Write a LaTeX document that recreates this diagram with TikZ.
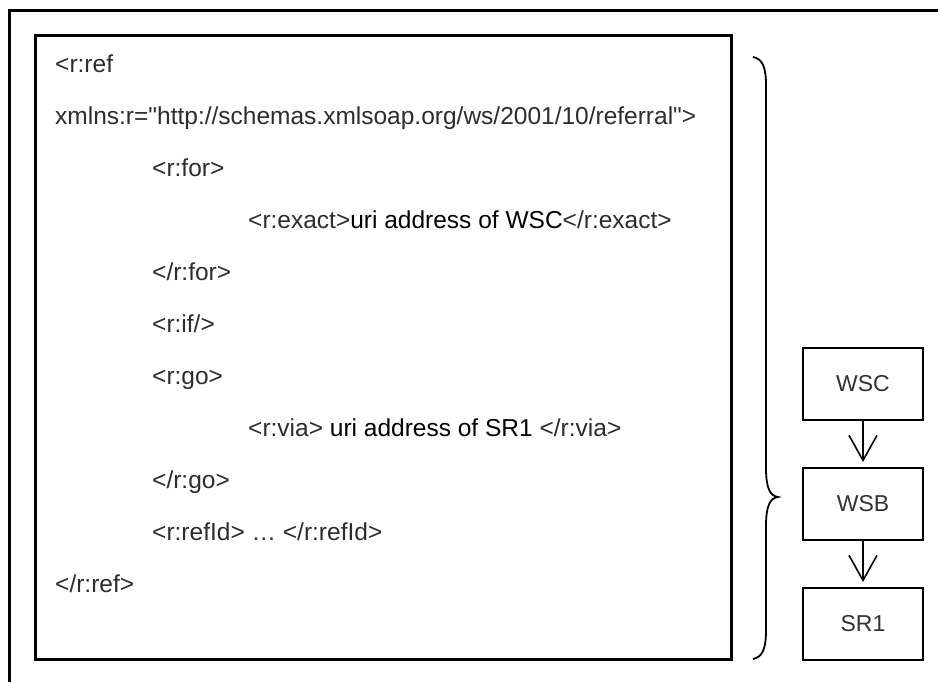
\documentclass[tikz,border=0pt]{standalone}
\usepackage{fontspec}
\setmainfont{Liberation Sans}[Ligatures=TeXOff]
\usetikzlibrary{arrows.meta}
\definecolor{taggray}{RGB}{45,45,45}
\definecolor{boxtext}{RGB}{50,50,50}
\begin{document}
\begin{tikzpicture}[x=1pt,y=-1pt,
  codeline/.style={anchor=mid west, inner sep=0pt, text=taggray, font=\fontsize{24.5}{29}\selectfont},
  flowbox/.style={draw, line width=2pt, minimum width=120pt, minimum height=72pt, inner sep=0pt, text=boxtext, font=\fontsize{23}{27}\selectfont},
  flowarrow/.style={line width=1.6pt, -{Straight Barb[length=25pt,width=28pt,line width=1.6pt]}, shorten >=5pt}
]
\useasboundingbox (0,0) rectangle (938,682);
\fill[white] (0,0) rectangle (938,682);
% outer frame (continues past the picture edges)
\draw[line width=2.5pt] (9.5,684) -- (9.5,10.5) -- (940,10.5);
% inner code box
\draw[line width=3pt] (35.5,36) rectangle (731,659);
% code lines
\node[codeline] (l1) at (55,70) {<r:ref};
\node[codeline] (l2) at (55,122) {xmlns:r="http://schemas.xmlsoap.org/ws/2001/10/referral">};
\node[codeline] (l3) at (152,174) {<r:for>};
\node[codeline] (l4) at (248,226) {<r:exact>\textcolor{black}{uri address of WSC}</r:exact>};
\node[codeline] (l5) at (152,278) {</r:for>};
\node[codeline] (l6) at (152,330) {<r:if/>};
\node[codeline] (l7) at (152,382) {<r:go>};
\node[codeline] (l8) at (248,434) {<r:via> \textcolor{black}{uri address of SR1} </r:via>};
\node[codeline] (l9) at (152,486) {</r:go>};
\node[codeline] (l10) at (152,538) {<r:refId> … </r:refId>};
\node[codeline] (l11) at (55,590) {</r:ref>};
% brace
\draw[line width=1.8pt] (753,57) .. controls (762,59) and (766,66) .. (766,85) -- (766,468)
  .. controls (766,488) and (770,496) .. (778,497)
  .. controls (770,498) and (766,506) .. (766,526) -- (766,630)
  .. controls (766,650) and (762,657) .. (753,659);
% flow boxes
\node[flowbox] (wsc) at (863,384) {WSC};
\node[flowbox] (wsb) at (863,504) {WSB};
\node[flowbox] (sr1) at (863,624) {SR1};
\draw[flowarrow] (wsc) -- (wsb);
\draw[flowarrow] (wsb) -- (sr1);
\end{tikzpicture}
\end{document}
